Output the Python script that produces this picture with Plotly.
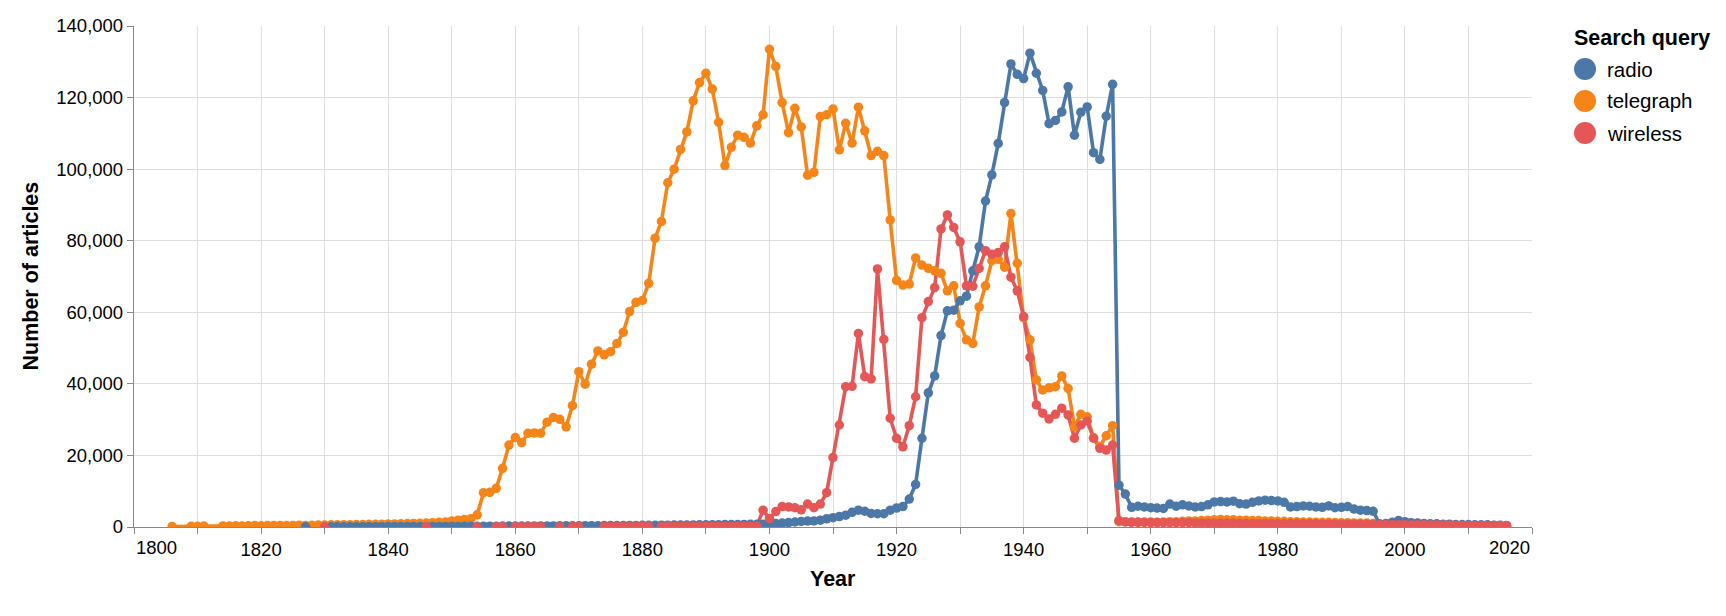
import plotly.graph_objects as go

# ---------------- data ----------------
radio_years = [1827] + list(range(1831, 2017))
radio_values = [
    60,
    # 1831-1840
    60, 70, 60, 80, 70, 90, 80, 100, 90, 110,
    # 1841-1850
    110, 120, 130, 120, 140, 150, 140, 160, 170, 180,
    # 1851-1860
    170, 190, 200, 210, 230, 220, 240, 250, 260, 270,
    # 1861-1870
    280, 270, 290, 300, 310, 300, 320, 330, 340, 350,
    # 1871-1880
    360, 370, 380, 390, 400, 410, 420, 430, 450, 460,
    # 1881-1890
    480, 490, 500, 520, 530, 550, 560, 580, 600, 620,
    # 1891-1900
    640, 650, 670, 690, 700, 720, 740, 760, 780, 800,
    # 1901-1910
    950, 1100, 1250, 1400, 1550, 1650, 1700, 1900, 2300, 2600,
    # 1911-1920
    2900, 3300, 4100, 4700, 4400, 3800, 3700, 3700, 4700, 5300,
    # 1921-1930
    5700, 7800, 11900, 24800, 37500, 42200, 53500, 60400, 60600, 63200,
    # 1931-1940
    64500, 71600, 78300, 91100, 98400, 107200, 118600, 129400, 126500, 125300,
    # 1941-1950
    132400, 126800, 122000, 112700, 113600, 116000, 123000, 109500, 115900, 117400,
    # 1951-1960
    104600, 102700, 114800, 123700, 11700, 9200, 5500, 5800, 5600, 5400,
    # 1961-1970
    5300, 5200, 6400, 5800, 6200, 5900, 5600, 5700, 6200, 7000,
    # 1971-1980
    7100, 7000, 7200, 6500, 6400, 6900, 7300, 7500, 7400, 7300,
    # 1981-1990
    6900, 5600, 5700, 5900, 5800, 5600, 5500, 5900, 5400, 5500,
    # 1991-2000
    5700, 5000, 4700, 4600, 4400, 900, 1000, 1300, 1800, 1500,
    # 2001-2010
    1200, 1100, 1000, 900, 900, 800, 800, 700, 700, 700,
    # 2011-2016
    600, 600, 600, 500, 500, 450,
]

telegraph_years = [1806, 1809, 1810, 1811] + list(range(1814, 2017))
telegraph_values = [
    150, 200, 200, 250,
    # 1814-1829
    300, 300, 350, 300, 350, 400, 350, 400, 400, 450, 400, 450, 500, 450, 500, 550,
    # 1830-1849
    550, 600, 600, 650, 650, 700, 700, 750, 750, 800,
    850, 850, 900, 950, 1000, 1050, 1100, 1200, 1300, 1400,
    # 1850-1859
    1700, 1900, 2100, 2300, 3400, 9600, 9700, 10800, 16400, 22900,
    # 1860-1869
    25000, 23600, 26200, 26300, 26200, 29300, 30600, 30100, 28000, 33900,
    # 1870-1879
    43400, 39900, 45500, 49200, 48100, 49000, 51300, 54400, 60200, 62800,
    # 1880-1889
    63300, 68100, 80700, 85400, 96200, 100000, 105500, 110400, 119100, 124200,
    # 1890-1899
    126800, 122400, 113100, 101000, 106100, 109500, 108900, 107300, 112100, 115200,
    # 1900-1909
    133500, 128700, 118600, 110200, 117000, 111800, 98300, 99100, 114700, 115200,
    # 1910-1919
    116800, 105400, 112800, 107300, 117300, 110700, 103800, 105000, 103800, 85800,
    # 1920-1929
    68900, 67600, 67900, 75200, 73200, 72300, 71600, 70900, 66000, 67400,
    # 1930-1939
    56900, 52300, 51300, 61500, 67400, 74400, 74800, 72600, 87600, 73700,
    # 1940-1949
    58500, 52300, 41100, 38300, 38900, 39200, 42200, 38700, 28000, 31500,
    # 1950-1959
    30800, 25000, 22500, 25500, 28300, 1500, 1500, 1400, 1400, 1350,
    # 1960-1969
    1400, 1350, 1400, 1500, 1500, 1600, 1700, 1700, 1800, 1900,
    # 1970-1979
    2000, 2100, 2000, 2000, 1900, 1900, 1800, 1800, 1700, 1700,
    # 1980-1989
    1600, 1600, 1500, 1500, 1400, 1400, 1350, 1300, 1300, 1250,
    # 1990-1999
    1200, 1200, 1150, 1100, 1100, 1000, 800, 750, 700, 700,
    # 2000-2009
    650, 600, 600, 550, 550, 500, 500, 500, 450, 450,
    # 2010-2016
    450, 400, 400, 400, 350, 350, 300,
]

wireless_years = ([1830, 1846, 1854, 1857, 1858, 1860, 1861, 1862, 1863, 1864,
                   1867, 1869, 1870, 1874, 1875, 1876, 1877, 1878, 1879, 1880, 1881]
                  + list(range(1883, 2017)))
wireless_values = [
    40, 60, 60, 70, 70, 80, 80, 90, 90, 100,
    100, 110, 110, 120, 120, 130, 130, 140, 140, 150, 150,
    # 1883-1892
    160, 160, 170, 170, 180, 180, 190, 190, 200, 200,
    # 1893-1898
    210, 210, 220, 230, 240, 250,
    # 1899-1908
    4700, 2400, 4300, 5700, 5600, 5400, 4800, 6400, 5400, 6400,
    # 1909-1918
    9600, 19400, 28500, 39200, 39300, 54100, 42000, 41400, 72100, 52400,
    # 1919-1928
    30400, 24800, 22400, 28300, 36400, 58500, 63000, 66900, 83300, 87200,
    # 1929-1938
    83700, 79700, 67400, 67300, 72300, 77200, 76200, 76700, 78300, 69800,
    # 1939-1948
    66000, 58800, 47400, 34100, 31800, 30200, 31500, 33200, 31300, 24800,
    # 1949-1958
    28500, 29600, 24800, 22000, 21500, 22900, 1800, 1400, 1300, 1300,
    # 1959-1968
    1300, 1250, 1250, 1250, 1200, 1200, 1200, 1200, 1150, 1150,
    # 1969-1978
    1150, 1100, 1100, 1100, 1100, 1050, 1050, 1050, 1000, 1000,
    # 1979-1988
    1000, 1000, 950, 950, 950, 900, 900, 900, 850, 850,
    # 1989-1998
    850, 800, 800, 800, 750, 750, 750, 700, 700, 650,
    # 1999-2008
    650, 650, 600, 600, 600, 550, 550, 550, 500, 500,
    # 2009-2016
    500, 450, 450, 450, 400, 400, 400, 350,
]

series_names = ["radio", "telegraph", "wireless"]
series_colors = ["#4c78a8", "#f58518", "#e45756"]
series_years = [radio_years, telegraph_years, wireless_years]
series_values = [radio_values, telegraph_values, wireless_values]
draw_order = [1, 0, 2]  # telegraph below radio, wireless on top

x_tick_values = list(range(1800, 2021, 10))
y_tick_values = [0, 20000, 40000, 60000, 80000, 100000, 120000, 140000]

# ---------------- figure ----------------
FONT = "Liberation Sans, Arial, Helvetica, sans-serif"
TICK_SIZE = 18.5
TITLE_SIZE = 21.5
LEGEND_LABEL_SIZE = 20.5
W, H = 1726, 616
L, R, T, B = 134, 194, 26, 89
PW, PH = W - L - R, H - T - B

fig = go.Figure()
for i in draw_order:
    fig.add_trace(go.Scatter(x=series_years[i], y=series_values[i], mode="lines",
                             name=series_names[i],
                             line=dict(color=series_colors[i], width=3.6),
                             showlegend=False, hoverinfo="skip"))
for i in draw_order:
    fig.add_trace(go.Scatter(x=series_years[i], y=series_values[i], mode="markers",
                             name=series_names[i],
                             marker=dict(color=series_colors[i], size=9.5, line=dict(width=0)),
                             showlegend=False))

x_tick_text = []
for v in x_tick_values:
    if v % 20 == 0 and v not in (x_tick_values[0], x_tick_values[-1]):
        x_tick_text.append(str(v))
    else:
        x_tick_text.append("")

fig.update_xaxes(
    range=[x_tick_values[0], x_tick_values[-1]],
    tickmode="array", tickvals=x_tick_values, ticktext=x_tick_text,
    showgrid=True, gridcolor="#dddddd", gridwidth=1,
    showline=True, linecolor="#888888", linewidth=1.3,
    ticks="outside", ticklen=6, tickcolor="#888888", tickwidth=1.3,
    zeroline=False, tickfont=dict(family=FONT, size=TICK_SIZE, color="#000"),
)
fig.update_yaxes(
    range=[y_tick_values[0], y_tick_values[-1]],
    tickmode="array", tickvals=y_tick_values, tickformat=",",
    showgrid=True, gridcolor="#dddddd", gridwidth=1,
    showline=True, linecolor="#888888", linewidth=1.3,
    ticks="outside", ticklen=6, tickcolor="#888888", tickwidth=1.3,
    zeroline=False, tickfont=dict(family=FONT, size=TICK_SIZE, color="#000"),
)

def px(xpix):
    return (xpix - L) / PW

def py(ypix):
    return (T + PH - ypix) / PH

annotations = [
    # flush end labels of the x axis
    dict(x=x_tick_values[0], y=py(547), xref="x", yref="paper", text=str(x_tick_values[0]),
         showarrow=False, xanchor="left", yanchor="middle",
         font=dict(family=FONT, size=TICK_SIZE, color="#000")),
    dict(x=x_tick_values[-1], y=py(547), xref="x", yref="paper", text=str(x_tick_values[-1]),
         showarrow=False, xanchor="right", yanchor="middle",
         font=dict(family=FONT, size=TICK_SIZE, color="#000")),
    # axis titles
    dict(x=0.5, y=py(579), xref="paper", yref="paper", text="<b>Year</b>",
         showarrow=False, xanchor="center", yanchor="middle",
         font=dict(family=FONT, size=TITLE_SIZE, color="#000")),
    dict(x=px(30), y=0.5, xref="paper", yref="paper", text="<b>Number of articles</b>",
         showarrow=False, xanchor="center", yanchor="middle", textangle=-90,
         font=dict(family=FONT, size=TITLE_SIZE, color="#000")),
    # legend title
    dict(x=px(1572), y=py(38), xref="paper", yref="paper", text="<b>Search query</b>",
         showarrow=False, xanchor="left", yanchor="middle",
         font=dict(family=FONT, size=TITLE_SIZE, color="#000")),
]
shapes = []
legend_rows = [69, 101, 133]
for name, color, ry in zip(series_names, series_colors, legend_rows):
    shapes.append(dict(type="circle", xref="paper", yref="paper",
                       x0=px(1574), x1=px(1596), y0=py(ry + 11), y1=py(ry - 11),
                       fillcolor=color, line=dict(width=0)))
    annotations.append(dict(x=px(1605), y=py(ry), xref="paper", yref="paper", text=name,
                            showarrow=False, xanchor="left", yanchor="middle",
                            font=dict(family=FONT, size=LEGEND_LABEL_SIZE, color="#000")))

fig.update_layout(
    width=W, height=H,
    margin=dict(l=L, r=R, t=T, b=B, pad=0),
    paper_bgcolor="white", plot_bgcolor="white",
    showlegend=False,
    annotations=annotations, shapes=shapes,
    font=dict(family=FONT),
)

fig.write_html("out.html")
